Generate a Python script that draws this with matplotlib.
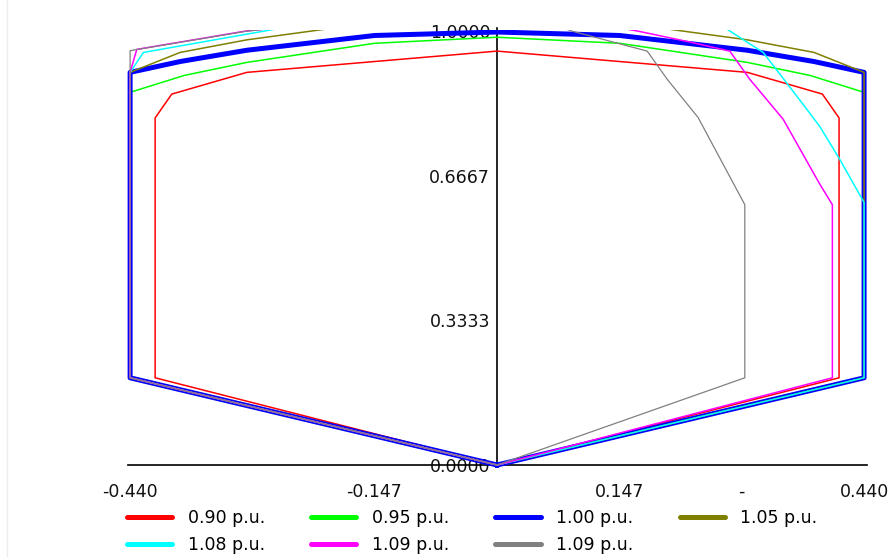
import matplotlib
matplotlib.use("Agg")
import matplotlib.pyplot as plt
from matplotlib.lines import Line2D

plt.rcParams['font.family'] = ['DejaVu Sans']

# ---- data (Q in p.u. on x, P in p.u. on y) ----
labels = ["0.90 p.u.", "0.95 p.u.", "1.00 p.u.", "1.05 p.u.", "1.08 p.u.", "1.09 p.u.", "1.09 p.u."]
colors = ["#FF0000", "#00FF00", "#0000FF", "#808000", "#00FFFF", "#FF00FF", "#808080"]
widths = [1.1, 1.1, 3.6, 1.1, 1.1, 1.1, 0.9]

q_090 = [0, -0.41, -0.41, -0.39, -0.30, 0, 0.30, 0.39, 0.41, 0.41, 0]
p_090 = [0, 0.201, 0.80, 0.855, 0.905, 0.954, 0.905, 0.855, 0.80, 0.201, 0]

q_095 = [0, -0.44, -0.44, -0.375, -0.30, -0.147, 0, 0.147, 0.30, 0.375, 0.44, 0.44, 0]
p_095 = [0, 0.201, 0.859, 0.898, 0.928, 0.972, 0.986, 0.972, 0.928, 0.898, 0.859, 0.201, 0]

q_100 = [0, -0.44, -0.44, -0.38, -0.30, -0.147, 0, 0.147, 0.30, 0.38, 0.44, 0.44, 0]
p_100 = [0, 0.201, 0.905, 0.930, 0.956, 0.990, 0.998, 0.990, 0.956, 0.930, 0.905, 0.201, 0]

q_105 = [0, -0.44, -0.44, -0.38, -0.30, -0.147, 0, 0.147, 0.30, 0.38, 0.44, 0.44, 0]
p_105 = [0, 0.201, 0.905, 0.951, 0.980, 1.020, 1.050, 1.020, 0.980, 0.951, 0.905, 0.201, 0]

q_108 = [0, -0.44, -0.44, -0.424, 0, 0.255, 0.319, 0.367, 0.387, 0.411, 0.44, 0.44, 0]
p_108 = [0, 0.201, 0.905, 0.951, 1.095, 1.030, 0.951, 0.831, 0.780, 0.704, 0.605, 0.201, 0]

q_109a = [0, -0.44, -0.44, -0.432, -0.302, 0, 0.169, 0.231, 0.279, 0.303, 0.343, 0.387, 0.402, 0.402, 0]
p_109a = [0, 0.201, 0.905, 0.958, 1.000, 1.060, 1.000, 0.975, 0.954, 0.889, 0.797, 0.647, 0.600, 0.201, 0]

q_109b = [0, -0.44, -0.44, -0.30, 0, 0.09, 0.18, 0.204, 0.241, 0.297, 0.297, 0]
p_109b = [0, 0.201, 0.955, 1.000, 1.060, 1.000, 0.954, 0.889, 0.801, 0.600, 0.201, 0]

curves = [(q_090, p_090), (q_095, p_095), (q_100, p_100), (q_105, p_105),
          (q_108, p_108), (q_109a, p_109a), (q_109b, p_109b)]

x_ticks = [-0.44, -0.147, 0.147, 0.293, 0.44]
x_ticklabels = ["-0.440", "-0.147", "0.147", "-", "0.440"]
y_ticks = [0.0, 1/3, 2/3, 1.0]
y_ticklabels = ["0.0000", "0.3333", "0.6667", "1.0000"]

# ---- figure ----
W, H = 891, 557
fig = plt.figure(figsize=(W/100, H/100), dpi=100)
ax = fig.add_axes([0.1273, 0.1496, 0.8612, 0.7968])
ax.set_xlim(-0.46, 0.46)
ax.set_ylim(-0.02, 1.003)

handles = []
for (q, p), c, lw, lab in zip(curves, colors, widths, labels):
    ax.plot(q, p, color=c, lw=lw, zorder=3)
    handles.append(Line2D([], [], color=c, lw=3.6, solid_capstyle='round', label=lab))

for s in ['top', 'right']:
    ax.spines[s].set_visible(False)
ax.spines['left'].set_position(('data', 0))
ax.spines['bottom'].set_position(('data', 0))
ax.spines['left'].set_bounds(0, 1.008)
ax.spines['bottom'].set_bounds(-0.443, 0.443)
for s in ['left', 'bottom']:
    ax.spines[s].set_linewidth(1.2)
    ax.spines[s].set_color('black')
    ax.spines[s].set_zorder(2)

ax.set_xticks(x_ticks)
ax.set_xticklabels(x_ticklabels)
ax.set_yticks(y_ticks)
ax.set_yticklabels(y_ticklabels)
ax.tick_params(axis='x', length=0, pad=13, labelsize=12.5, colors='#111111')
ax.tick_params(axis='y', length=0, pad=5, labelsize=12.5, colors='#111111')
for t in ax.get_yticklabels():
    t.set_zorder(4)
ax.patch.set_alpha(0)

# legend (row-major appearance with 4 columns)
order = [0, 4, 1, 5, 2, 6, 3]
fig.legend([handles[i] for i in order], [labels[i] for i in order],
           ncol=4, loc='upper left', bbox_to_anchor=(127/W, 1 - 509/H),
           frameon=False, borderpad=0, borderaxespad=0, fontsize=12.5,
           handlelength=2.6, handletextpad=0.9, columnspacing=2.66,
           labelspacing=0.5)

# faint border at left edge
fig.add_artist(Line2D([7/W, 7/W], [0, 1], color='#ececec', lw=1))

fig.savefig("out.png", dpi=100)
